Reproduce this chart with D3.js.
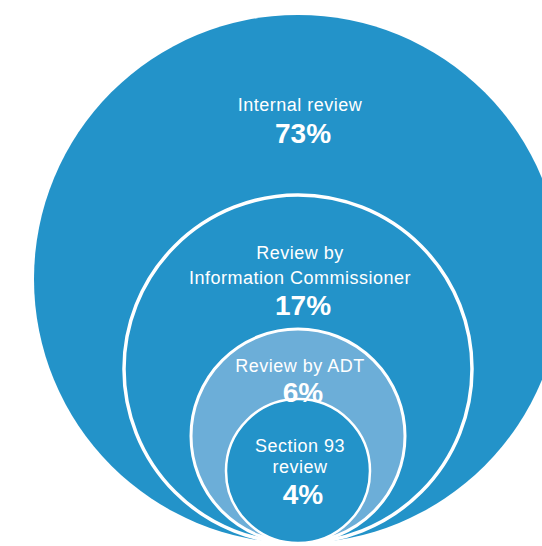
<!DOCTYPE html>
<html>
<head>
<meta charset="utf-8">
<script src="https://cdn.jsdelivr.net/npm/d3@7/dist/d3.min.js"></script>
<style>
  html, body { margin: 0; padding: 0; background: #ffffff; }
  svg { display: block; }
  text { font-family: "Liberation Sans", Arial, sans-serif; fill: #ffffff; }
</style>
</head>
<body>
<svg id="chart" width="542" height="546"></svg>
<script>
// Review pathways, share of applications (%), from outermost to innermost
const categories = ["Internal review", "Review by Information Commissioner", "Review by ADT", "Section 93 review"];
const labelLines = [["Internal review"], ["Review by", "Information Commissioner"], ["Review by ADT"], ["Section 93", "review"]];
const shares = [73, 17, 6, 4];

const fills = ["#2393c9", "#2393c9", "#6caed8", "#2393c9"];
const strokeWidths = [0, 3.5, 3, 2.5];
// distance from each circle's top edge to the first label baseline
const labelOffsets = [96, 64, 43, 53];

const width = 542, height = 546;
const baseY = 543;   // circles sit on a common baseline
const cx = 298;

// radius for each share (nested bubbles, hand-tuned sizes)
const rScale = d3.scaleLinear()
  .domain([4, 6, 17, 73])
  .range([72, 107, 174, 264]);

const svg = d3.select("#chart");

const nodes = shares.map((v, i) => {
  const r = rScale(v);
  return { name: categories[i], lines: labelLines[i], value: v, r, cy: baseY - r, i };
});

svg.selectAll("circle.bubble")
  .data(nodes)
  .join("circle")
  .attr("class", "bubble")
  .attr("cx", cx)
  .attr("cy", d => d.cy)
  .attr("r", d => d.r)
  .attr("fill", d => fills[d.i])
  .attr("stroke", "#ffffff")
  .attr("stroke-width", d => strokeWidths[d.i]);

const labels = svg.selectAll("g.label")
  .data(nodes)
  .join("g")
  .attr("class", "label")
  .attr("transform", d => `translate(${cx + 2},${d.cy - d.r + labelOffsets[d.i]})`);

const lineGap = [0, 25, 0, 20.5];
const pctGap = [32, 31, 30, 31.5];

labels.each(function(d) {
  const g = d3.select(this);
  d.lines.forEach((line, k) => {
    g.append("text")
      .attr("text-anchor", "middle")
      .attr("y", k * lineGap[d.i])
      .style("font-size", "18px")
      .style("letter-spacing", "0.5px")
      .text(line);
  });
  g.append("text")
    .attr("text-anchor", "middle")
    .attr("x", 3)
    .attr("y", (d.lines.length - 1) * lineGap[d.i] + pctGap[d.i])
    .style("font-size", "28px")
    .style("font-weight", "700")
    .text(d.value + "%");
});
</script>
</body>
</html>
